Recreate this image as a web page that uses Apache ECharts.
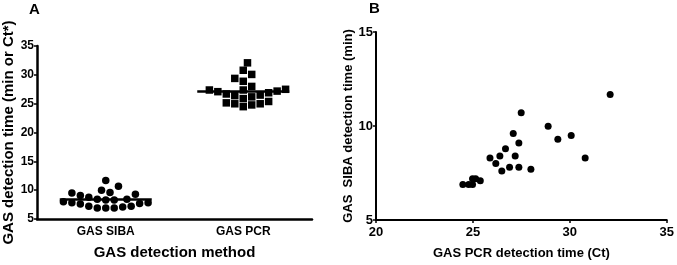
<!DOCTYPE html>
<html>
<head>
<meta charset="utf-8">
<script src="https://cdn.jsdelivr.net/npm/echarts@6/dist/echarts.min.js"></script>
<style>
  html, body { margin: 0; padding: 0; background: #fff; }
  #chart { width: 677px; height: 265px; }
</style>
</head>
<body>
<div id="chart"></div>
<script>
// paired detection times per sample (B: x = PCR Ct, y = SIBA min)
const methods = ['GAS SIBA', 'GAS PCR'];
const pcrCt = [32.08, 27.49, 28.88, 27.08, 30.07, 29.38, 27.37, 26.68, 25.88, 26.39, 27.18, 30.79,
  26.18, 26.89, 27.37, 27.99, 26.49, 24.98, 25.14, 25.38, 24.48, 24.78, 24.98];
const sibaMin = [11.68, 10.70, 9.99, 9.60, 9.49, 9.29, 9.09, 8.79, 8.30, 8.41, 8.41, 8.30,
  8.00, 7.81, 7.81, 7.70, 7.60, 7.20, 7.20, 7.09, 6.89, 6.89, 6.89];
const yTicksA = [5, 35, 5];   // min, max, step
const xTicksB = [20, 35, 5];
const yTicksB = [5, 15, 5];

const FONT = 'Liberation Sans, Arial, sans-serif';
const gridA = { left: 36, right: 365, top: 46, bottom: 36 };
const gridB = { left: 376, right: 10, top: 32, bottom: 39 };

// simple beeswarm so points with close values sit side by side
function swarm(values, cat) {
  const w = 677 - gridA.left - gridA.right;
  const h = 265 - gridA.top - gridA.bottom;
  const pxX = w / 2, pxY = h / (yTicksA[1] - yTicksA[0]);
  const d = 8.5;
  const placed = [];
  const order = values.map((v, i) => i).sort((a, b) => values[a] - values[b]);
  order.forEach(i => {
    const py = values[i] * pxY;
    for (let k = 0; k < 60; k++) {
      const off = (k % 2 ? 1 : -1) * Math.ceil(k / 2) * (d / 2);
      const ok = placed.every(p => Math.hypot(p.x - off, p.y - py) >= d - 0.01);
      if (ok) { placed.push({ x: off, y: py, v: values[i] }); break; }
    }
  });
  return placed.map(p => [cat + p.x / pxX, p.v]);
}

const mean = a => a.reduce((s, v) => s + v, 0) / a.length;

const tickLabel = (size, margin) => ({ color: '#000', fontFamily: FONT, fontWeight: 'bold', fontSize: size, margin: margin });
const nameStyle = size => ({ color: '#000', fontFamily: FONT, fontWeight: 'bold', fontSize: size });
const black = { color: '#000', opacity: 1 };

const chart = echarts.init(document.getElementById('chart'));
chart.setOption({
  animation: false,
  backgroundColor: '#fff',
  title: [
    { text: 'A', left: 24, top: -3, textStyle: { fontFamily: FONT, fontWeight: 'bold', fontSize: 15, color: '#000' } },
    { text: 'B', left: 364, top: -4, textStyle: { fontFamily: FONT, fontWeight: 'bold', fontSize: 15, color: '#000' } }
  ],
  grid: [gridA, gridB],
  xAxis: [
    {
      gridIndex: 0, type: 'category', data: methods, boundaryGap: true,
      axisLine: { lineStyle: { color: '#000', width: 2.5 } },
      axisTick: { show: false },
      axisLabel: tickLabel(12, 7),
      name: 'GAS detection method', nameLocation: 'middle', nameGap: 26,
      nameTextStyle: nameStyle(15)
    },
    { gridIndex: 0, type: 'value', min: 0.5, max: 2.5, show: false },
    {
      gridIndex: 1, type: 'value', min: xTicksB[0], max: xTicksB[1], interval: xTicksB[2],
      splitLine: { show: false },
      axisLine: { onZero: false, lineStyle: { color: '#000', width: 2 } },
      axisTick: { length: 3, lineStyle: { color: '#000', width: 1.5 } },
      axisLabel: tickLabel(13, 6),
      name: 'GAS PCR detection time (Ct)', nameLocation: 'middle', nameGap: 27,
      nameTextStyle: nameStyle(13)
    }
  ],
  yAxis: [
    {
      gridIndex: 0, type: 'value', min: yTicksA[0], max: yTicksA[1], interval: yTicksA[2],
      splitLine: { show: false },
      axisLine: { show: true, onZero: false, lineStyle: { color: '#000', width: 2.5 } },
      axisTick: { show: true, length: 3, lineStyle: { color: '#000', width: 1.5 } },
      axisLabel: tickLabel(12, 3),
      name: 'GAS detection time (min or Ct*)', nameLocation: 'middle', nameGap: 21,
      nameTextStyle: nameStyle(15)
    },
    {
      gridIndex: 1, type: 'value', min: yTicksB[0], max: yTicksB[1], interval: yTicksB[2],
      splitLine: { show: false },
      axisLine: { show: true, onZero: false, lineStyle: { color: '#000', width: 2 } },
      axisTick: { show: true, length: 3, lineStyle: { color: '#000', width: 1.5 } },
      axisLabel: tickLabel(13, 3),
      name: 'GAS  SIBA detection time (min)', nameLocation: 'middle', nameGap: 20,
      nameTextStyle: nameStyle(13)
    }
  ],
  series: [
    {
      type: 'scatter', xAxisIndex: 1, yAxisIndex: 0, symbol: 'circle', symbolSize: 7.5,
      itemStyle: black, data: swarm(sibaMin, 1)
    },
    {
      type: 'scatter', xAxisIndex: 1, yAxisIndex: 0, symbol: 'rect', symbolSize: 7.5,
      itemStyle: black, data: swarm(pcrCt, 2)
    },
    {
      type: 'scatter', xAxisIndex: 1, yAxisIndex: 0, symbol: 'rect', symbolSize: [92, 2.5],
      itemStyle: black, z: 3,
      data: [[1, mean(sibaMin)], [2, mean(pcrCt)]]
    },
    {
      type: 'scatter', xAxisIndex: 2, yAxisIndex: 1, symbol: 'circle', symbolSize: 7,
      itemStyle: black,
      data: pcrCt.map((x, i) => [x, sibaMin[i]])
    }
  ]
});
</script>
</body>
</html>
